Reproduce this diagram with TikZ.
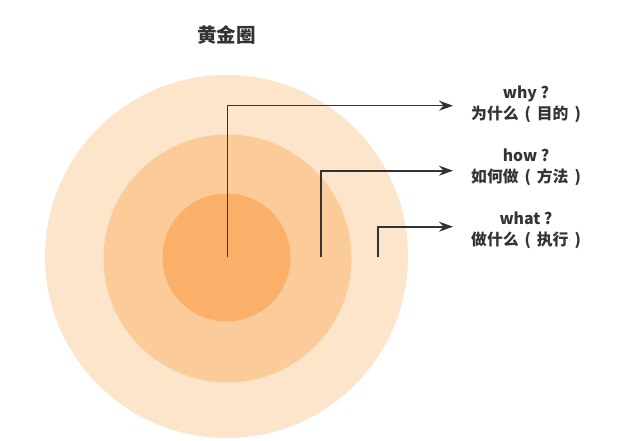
\documentclass[tikz,border=0pt]{standalone}
\usepackage{fontspec}
\setmainfont{Noto Sans CJK SC}
\usepackage{tikz}
\usetikzlibrary {arrows.meta,
                 positioning}
\definecolor{ringout}{HTML}{FDE5CC}
\definecolor{ringmid}{HTML}{FCCB9A}
\definecolor{ringin}{HTML}{FBB06A}
\definecolor{ink}{HTML}{333333}
\newcommand{\openp}{\hspace{6pt}(\hspace{6pt}}
\newcommand{\closep}{\hspace{6pt})}
\tikzset{
        ring/.style={draw=none},
        lbl/.style={align=center, inner sep=0pt, text=ink,
                    font=\fontsize{15.8}{21.5}\selectfont\bfseries},
        ttl/.style={text=ink, font=\fontsize{19.5}{22}\selectfont\bfseries},
        myarrow/.style={-{Stealth[length=14pt, width=10pt]}, draw=ink,
                        line width=1.6pt},
 }

\begin{document}
\begin{tikzpicture}[x=1pt, y=-1pt]
    \useasboundingbox (0,0) rectangle (637,441);

    % the three circles
    \fill[ring, ringout] (226.5,256.5) circle (181.5pt);
    \fill[ring, ringmid] (227.5,258.5) circle (124pt);
    \fill[ring, ringin]  (226.5,257.5) circle (64pt);

    \node[ttl] (title) at (226.5,35) {黄金圈};

    % start and end of the arrows
    \coordinate (s1) at (227.5,257);
    \coordinate (s2) at (321,257);
    \coordinate (s3) at (377.7,257);
    \coordinate (e1) at (453,105.7);
    \coordinate (e2) at (453,170.7);
    \coordinate (e3) at (453,226.7);

    \node[lbl, right=18pt of e1, yshift=1.5pt] (why) {why ?\\为什么\openp 目的\closep};
    \node[lbl, right=18pt of e2, yshift=3.5pt] (how) {how ?\\如何做\openp 方法\closep};
    \node[lbl, right=18pt of e3, yshift=-3.5pt] (what) {what ?\\做什么\openp 执行\closep};

    \draw[myarrow] (s1) |- (e1);
    \draw[myarrow] (s2) |- (e2);
    \draw[myarrow] (s3) |- (e3);
\end{tikzpicture}
\end{document}
